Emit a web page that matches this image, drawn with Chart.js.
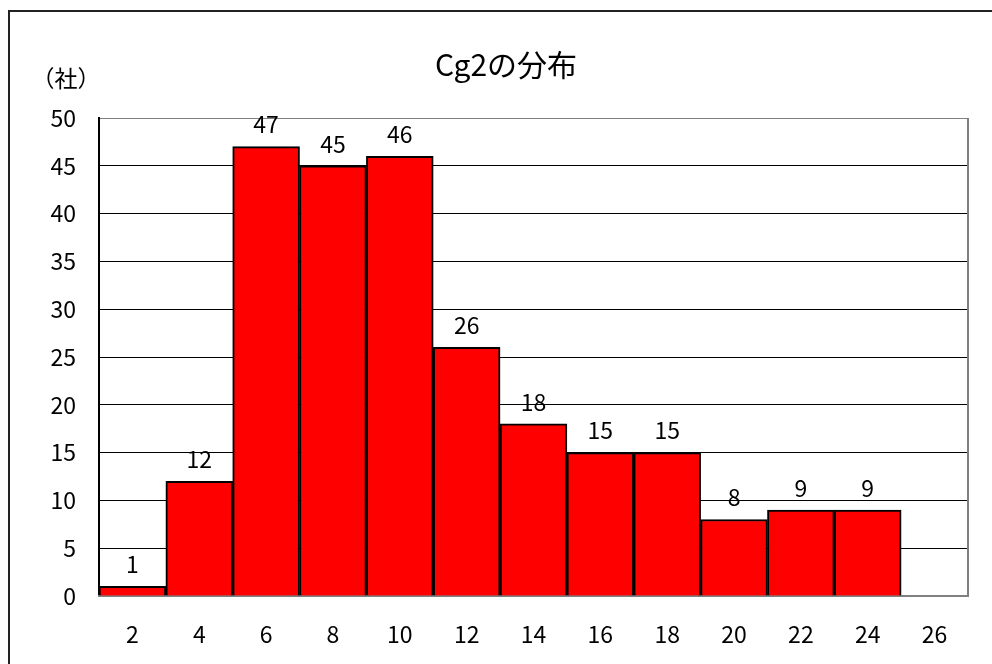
<!DOCTYPE html>
<html>
<head>
<meta charset="utf-8">
<script src="https://cdn.jsdelivr.net/npm/chart.js@4"></script>
<style>
  html, body { margin: 0; padding: 0; background: #fff; }
  #wrap { position: relative; width: 992px; height: 664px; overflow: hidden; }
  #frame { position: absolute; left: 8px; top: 10px; width: 1100px; height: 800px;
           border-left: 2px solid #222; border-top: 2px solid #222; }
  canvas { position: absolute; left: 0; top: 0; }
</style>
</head>
<body>
<div id="wrap">
  <div id="frame"></div>
  <canvas id="chart" width="992" height="664"></canvas>
</div>
<script>
// categories (class upper bounds) and counts
const categories = ['2', '4', '6', '8', '10', '12', '14', '16', '18', '20', '22', '24', '26'];
const counts = [1, 12, 47, 45, 46, 26, 18, 15, 15, 8, 9, 9, 0];
const yTicks = [0, 5, 10, 15, 20, 25, 30, 35, 40, 45, 50];

const titleText = 'Cg2の分布';
const unitText = '（社）';
const FONT = '"Noto Sans CJK JP", "Noto Sans", sans-serif';

// title, unit label, right frame line and value labels
const decorPlugin = {
    id: 'decor',
    beforeDatasetsDraw(chart) {
        const { ctx, chartArea } = chart;
        ctx.save();
        ctx.strokeStyle = '#808080';
        ctx.lineWidth = 2;
        ctx.beginPath();
        ctx.moveTo(chartArea.right, chartArea.top);
        ctx.lineTo(chartArea.right, chartArea.bottom);
        ctx.stroke();
        ctx.restore();
    },
    afterDatasetsDraw(chart) {
        const { ctx } = chart;
        ctx.save();
        ctx.fillStyle = '#000';
        ctx.font = '23px ' + FONT;
        ctx.textAlign = 'center';
        ctx.textBaseline = 'middle';
        const meta = chart.getDatasetMeta(0);
        meta.data.forEach((bar, i) => {
            if (counts[i] > 0) {
                ctx.fillText(String(counts[i]), bar.x, bar.y - 22);
            }
        });
        ctx.font = '30px ' + FONT;
        ctx.fillText(titleText, 506, 65);
        ctx.font = '23px ' + FONT;
        ctx.fillText(unitText, 66, 78);
        ctx.restore();
    }
};

const ctx = document.getElementById('chart').getContext('2d');
new Chart(ctx, {
    type: 'bar',
    data: {
        labels: categories,
        datasets: [{
            data: counts,
            backgroundColor: '#ff0000',
            borderColor: '#000000',
            borderWidth: 2,
            barPercentage: 1,
            categoryPercentage: 1
        }]
    },
    options: {
        responsive: false,
        animation: false,
        layout: { padding: { top: 118, right: 24, left: 0, bottom: 0 } },
        plugins: {
            legend: { display: false },
            title: { display: false },
            tooltip: { enabled: false }
        },
        scales: {
            y: {
                min: 0,
                max: 50,
                afterBuildTicks: (axis) => { axis.ticks = yTicks.map(v => ({ value: v })); },
                afterFit: (axis) => { axis.width = 99; },
                ticks: {
                    color: '#000',
                    font: { family: FONT, size: 23 },
                    padding: 23
                },
                grid: {
                    drawTicks: false,
                    lineWidth: 1,
                    color: (c) => (c.tick && c.tick.value === 50 ? '#808080' : '#000000')
                },
                border: { color: '#000', width: 2 }
            },
            x: {
                afterFit: (axis) => { axis.height = 68; },
                ticks: {
                    color: '#000',
                    font: { family: FONT, size: 23 },
                    padding: 24,
                    maxRotation: 0
                },
                grid: { display: false, drawTicks: false },
                border: { color: '#808080', width: 2 }
            }
        }
    },
    plugins: [decorPlugin]
});
</script>
</body>
</html>
